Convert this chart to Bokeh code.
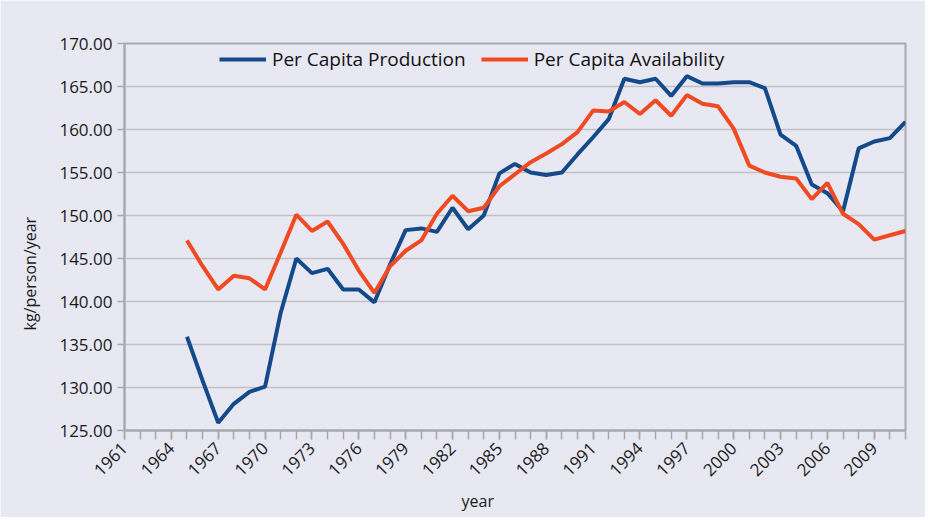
import math
from bokeh.plotting import figure
from bokeh.models import FixedTicker, Range1d, Legend, LegendItem, NumeralTickFormatter, Title
from bokeh.embed import file_html
from bokeh.resources import INLINE

years = list(range(1965, 2012))
production = [135.9, 130.8, 125.9, 128.1, 129.5, 130.1, 138.7, 145.0, 143.3, 143.8,
              141.4, 141.4, 139.9, 144.3, 148.3, 148.5, 148.1, 150.9, 148.4, 150.0,
              154.9, 156.0, 155.0, 154.7, 155.0, 157.1, 159.1, 161.2, 165.9, 165.5,
              165.9, 163.9, 166.2, 165.35, 165.35, 165.5, 165.5, 164.8, 159.4, 158.1,
              153.6, 152.6, 150.5, 157.8, 158.6, 159.0, 160.9]
availability = [147.1, 144.1, 141.4, 143.0, 142.7, 141.4, 145.7, 150.1, 148.2, 149.3,
                146.7, 143.6, 141.0, 144.1, 145.9, 147.1, 150.2, 152.3, 150.5, 150.9,
                153.4, 154.8, 156.2, 157.2, 158.3, 159.7, 162.2, 162.1, 163.2, 161.8,
                163.4, 161.6, 164.0, 163.0, 162.7, 160.1, 155.8, 155.0, 154.5, 154.3,
                151.9, 153.8, 150.2, 149.0, 147.2, 147.7, 148.2]
label_years = list(range(1961, 2010, 3))
all_years = list(range(1961, 2012))
y_ticks = list(range(125, 171, 5))

BG = "#e8e8f3"
GRID = "#c0c0c6"
AXIS = "#a8a8ae"
FONT = "Open Sans"
TXT = "#1a1a1a"

p = figure(width=925, height=517, output_backend="svg", toolbar_location=None,
           x_range=Range1d(1961, 2011), y_range=Range1d(125, 170),
           min_border_left=123, min_border_right=20, min_border_top=43, min_border_bottom=87)
p.background_fill_color = BG
p.border_fill_color = BG
p.outline_line_color = AXIS
p.outline_line_width = 2

r1 = p.line(years, production, line_color="#154a8a", line_width=4)
r2 = p.line(years, availability, line_color="#f04a23", line_width=4)

p.xgrid.visible = False
p.ygrid.grid_line_color = GRID
p.ygrid.grid_line_width = 1.5

xa = p.xaxis[0]
xa.ticker = FixedTicker(ticks=label_years, minor_ticks=all_years)
xa.major_label_orientation = math.pi / 4
xa.major_tick_in = 0
xa.major_tick_out = 9
xa.minor_tick_in = 0
xa.minor_tick_out = 9
xa.major_tick_line_color = AXIS
xa.minor_tick_line_color = AXIS
xa.major_tick_line_width = 1.5
xa.minor_tick_line_width = 1.5
xa.axis_line_color = AXIS
xa.axis_line_width = 2
xa.major_label_text_font = FONT
xa.major_label_text_font_size = "17px"
xa.major_label_text_color = TXT
xa.major_label_standoff = 6

ya = p.yaxis[0]
ya.ticker = FixedTicker(ticks=y_ticks, minor_ticks=[])
ya.formatter = NumeralTickFormatter(format="0.00")
ya.major_tick_in = 0
ya.major_tick_out = 7
ya.minor_tick_out = 0
ya.minor_tick_in = 0
ya.major_tick_line_color = AXIS
ya.major_tick_line_width = 1.5
ya.axis_line_color = AXIS
ya.axis_line_width = 2
ya.major_label_text_font = FONT
ya.major_label_text_font_size = "17px"
ya.major_label_text_color = TXT
ya.major_label_standoff = 5

xt = Title(text="year", align="left", offset=337, standoff=6,
           text_font=FONT, text_font_size="16px", text_font_style="normal", text_color=TXT)
p.add_layout(xt, "below")
yt = Title(text="kg/person/year", align="left", offset=100, standoff=32,
           text_font=FONT, text_font_size="16px", text_font_style="normal", text_color=TXT)
p.add_layout(yt, "left")

legend = Legend(items=[LegendItem(label="Per Capita Production", renderers=[r1]),
                       LegendItem(label="Per Capita Availability", renderers=[r2])],
                orientation="horizontal", location=(95, 358))
legend.background_fill_alpha = 0
legend.border_line_alpha = 0
legend.padding = 0
legend.margin = 0
legend.glyph_width = 47
legend.glyph_height = 20
legend.label_height = 20
legend.label_standoff = 6
legend.spacing = 15
legend.label_text_font = FONT
legend.label_text_font_size = "19px"
legend.label_text_color = "#111111"
p.add_layout(legend, "center")

open("out.html", "w").write(file_html(p, INLINE))
